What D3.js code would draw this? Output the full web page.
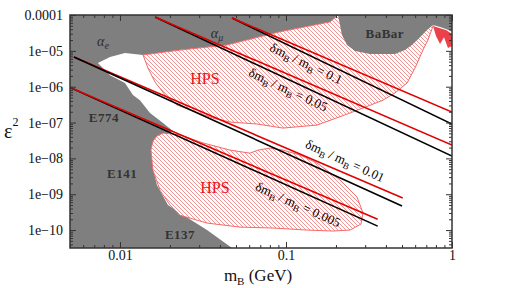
<!DOCTYPE html>
<html>
<head>
<meta charset="utf-8">
<script src="https://cdn.jsdelivr.net/npm/d3@7"></script>
<style>
  html, body { margin: 0; padding: 0; background: #fff; }
  svg { display: block; font-family: "Liberation Serif", "DejaVu Serif", serif; }
</style>
</head>
<body>
<svg id="chart" width="519" height="288"></svg>
<script>
// ---- data (m_B in GeV, epsilon^2) ----
const xTickValues = [0.01, 0.1, 1];
const yTickValues = [1e-4, 1e-5, 1e-6, 1e-7, 1e-8, 1e-9, 1e-10];

// allowed (white) region, everything else in the frame is excluded (grey)
const allowedRegion = [
  [0.00736, 4.6e-6], [0.00871, 6.7e-6], [0.01072, 8.7e-6], [0.01377, 7.7e-6],
  [0.02297, 1.05e-5], [0.04413, 1.46e-5], [0.09206, 3.4e-5], [0.1841, 6.4e-5],
  [0.2115, 1e-4], [1, 1e-4], [1, 3.16e-11], [0.0473, 3.16e-11],
  [0.03344, 1e-10], [0.02297, 3.0e-10], [0.01945, 5.0e-10], [0.0167, 1.8e-9],
  [0.0156, 6.5e-9], [0.0156, 2.35e-8], [0.0167, 3.9e-8], [0.02085, 5.8e-8],
  [0.01816, 9.7e-8], [0.01517, 1.84e-7], [0.01319, 4.2e-7], [0.01197, 5.9e-7],
  [0.01072, 1.26e-6], [0.00871, 2.1e-6]
];

const babarRegion = [
  [0.2057, 1e-4], [0.2173, 2.77e-5], [0.2331, 1.46e-5], [0.2604, 9.9e-6],
  [0.3207, 8.2e-6], [0.4536, 8.2e-6], [0.5212, 1.05e-5], [0.5741, 1.46e-5],
  [0.6412, 2.4e-5], [0.7068, 3.8e-5], [0.7686, 5.3e-5], [0.8472, 4.6e-5],
  [0.9203, 4.07e-5], [1, 3.4e-5], [1, 1e-4]
];

const hpsUpper = [
  [0.01377, 7.7e-6], [0.02297, 1.05e-5], [0.04413, 1.46e-5], [0.09206, 3.4e-5],
  [0.1841, 6.4e-5], [0.2057, 1e-4], [0.7686, 1e-4], [0.7686, 4.9e-5],
  [0.7161, 2.0e-5], [0.6683, 1.05e-5], [0.5984, 3.3e-6], [0.5358, 1.26e-6],
  [0.4536, 6.7e-7], [0.3838, 4.2e-7], [0.2429, 1.84e-7], [0.1538, 8.5e-8],
  [0.09594, 7.0e-8], [0.06686, 9.1e-8], [0.04605, 1.03e-7], [0.03633, 1.33e-7],
  [0.02754, 2.1e-7], [0.02203, 3.1e-7], [0.01867, 5.9e-7], [0.01626, 1.35e-6],
  [0.01475, 3.3e-6]
];

const hpsSpike = [
  [0.7686, 4.9e-5], [0.801, 2.6e-5], [0.8472, 1.55e-5], [0.895, 2.4e-5],
  [0.946, 1.2e-5], [1, 1.36e-5], [1, 2.95e-5], [0.9203, 3.8e-5], [0.8472, 4.3e-5]
];

const hpsLower = [
  [0.0167, 4.2e-8], [0.01816, 5.1e-8], [0.02297, 4.5e-8], [0.03163, 2.7e-8],
  [0.04605, 1.7e-8], [0.06068, 1.4e-8], [0.0678, 1.7e-8], [0.08013, 1.94e-8],
  [0.09594, 1.7e-8], [0.1214, 1.24e-8], [0.1538, 7.4e-9], [0.2115, 2.5e-9],
  [0.268, 8.3e-10], [0.2911, 3.0e-10], [0.283, 1.47e-10], [0.2429, 1e-10],
  [0.1919, 9.4e-11], [0.1339, 1e-10], [0.08351, 1.14e-10], [0.05285, 1.21e-10],
  [0.03344, 1.57e-10], [0.02297, 2.6e-10], [0.02, 5.0e-10], [0.01742, 1.3e-9],
  [0.0158, 4.7e-9], [0.01537, 1.7e-8], [0.0158, 3.04e-8]
];

// delta m_B / m_B lines: [start, end]
const ratioValues = ["0.1", "0.05", "0.01", "0.005"];
const redLines = [
  [[0.0473, 8.2e-5], [1, 1.96e-7]],
  [[0.01626, 8.8e-5], [1, 2.35e-8]],
  [[0.00528, 6.7e-6], [0.505, 7.8e-10]],
  [[0.005, 9.5e-7], [0.3567, 2.0e-10]]
];
const blackLines = [
  [[0.0473, 8.2e-5], [1, 9.08e-8]],
  [[0.01626, 8.8e-5], [1, 1.16e-8]],
  [[0.00528, 6.7e-6], [0.50, 4.7e-10]],
  [[0.005, 9.5e-7], [0.3567, 1.29e-10]]
];
// label centre for each ratio line
const ratioLabelPos = [[0.132, 4.3e-6], [0.1028, 8.1e-7], [0.2265, 8.4e-9], [0.118, 5.0e-10]];

const regionLabels = [
  { text: "HPS", m: 0.0325, e: 1.75e-6, kind: "hps" },
  { text: "HPS", m: 0.0373, e: 1.58e-9, kind: "hps" },
  { text: "BaBar", m: 0.394, e: 3.1e-5, kind: "exp" },
  { text: "E774", m: 0.0080, e: 1.42e-7, kind: "exp" },
  { text: "E141", m: 0.0103, e: 3.9e-9, kind: "exp" },
  { text: "E137", m: 0.023, e: 7.7e-11, kind: "exp" }
];
const alphaLabels = [
  { sub: "e", m: 0.0079, e: 1.88e-5 },
  { sub: "\u03bc", m: 0.0384, e: 3.1e-5 }
];

// ---- chart ----
const svg = d3.select("#chart");
const pLeft = 70, pRight = 452, pTop = 15, pBottom = 248;
const greyFill = "#7f7f7f";

const x = d3.scaleLog().domain([0.005, 1]).range([pLeft, pRight]);
const y = d3.scaleLog().domain([Math.pow(10, -10.5), 1e-4]).range([pBottom, pTop]);

const area = d3.line().x(d => x(d[0])).y(d => y(d[1])).curve(d3.curveLinearClosed);
const seg = d3.line().x(d => x(d[0])).y(d => y(d[1]));

const defs = svg.append("defs");
defs.append("clipPath").attr("id", "plotClip")
  .append("rect").attr("x", pLeft).attr("y", pTop)
  .attr("width", pRight - pLeft).attr("height", pBottom - pTop);
const hatch = defs.append("pattern").attr("id", "hatch")
  .attr("patternUnits", "userSpaceOnUse").attr("width", 4).attr("height", 4);
hatch.append("rect").attr("width", 4).attr("height", 4).attr("fill", "#fff");
hatch.append("path").attr("d", "M-1,3 l2,2 M0,0 l4,4 M3,-1 l2,2")
  .attr("stroke", "#ef7a7a").attr("stroke-width", 0.8);

const plot = svg.append("g").attr("clip-path", "url(#plotClip)");

// excluded background
plot.append("rect").attr("x", pLeft).attr("y", pTop)
  .attr("width", pRight - pLeft).attr("height", pBottom - pTop).attr("fill", greyFill);
plot.append("path").attr("d", area(allowedRegion)).attr("fill", "#fff");

// HPS reach
[hpsUpper, hpsLower].forEach(r => {
  plot.append("path").attr("d", area(r))
    .attr("fill", "url(#hatch)")
    .attr("stroke", "#f26a6a").attr("stroke-width", 1);
});
plot.append("path").attr("d", area(babarRegion)).attr("fill", greyFill);
plot.append("path").attr("d", area(hpsSpike)).attr("fill", "#e8202a").attr("opacity", 0.85);

// region labels
regionLabels.forEach(l => {
  plot.append("text")
    .attr("x", x(l.m)).attr("y", y(l.e))
    .attr("dy", "0.35em")
    .attr("text-anchor", "middle")
    .attr("font-size", l.kind === "hps" ? 16 : 13)
    .attr("font-weight", l.kind === "hps" ? null : "bold")
    .attr("letter-spacing", l.kind === "hps" ? null : "0.5px")
    .attr("fill", l.kind === "hps" ? "#e8101a" : "#333")
    .text(l.text);
});
alphaLabels.forEach(l => {
  const t = plot.append("text")
    .attr("x", x(l.m)).attr("y", y(l.e))
    .attr("dy", "0.35em")
    .attr("text-anchor", "middle")
    .attr("font-size", 14).attr("font-style", "italic")
    .attr("fill", "#2e2e2e");
  t.append("tspan").text("\u03b1");
  t.append("tspan").attr("font-size", 10).attr("dy", 3).text(l.sub);
});

// ratio lines
redLines.forEach((r, i) => {
  const b = blackLines[i];
  const order = i === 2 ? [["#e00000", r], ["#000", b]] : [["#000", b], ["#e00000", r]];
  order.forEach(([c, d]) => {
    plot.append("path").attr("d", seg(d))
      .attr("fill", "none").attr("stroke", c).attr("stroke-width", 1.6);
  });
});

// ratio labels, rotated along the lines
ratioValues.forEach((v, i) => {
  const d = blackLines[i];
  const ang = Math.atan2(y(d[1][1]) - y(d[0][1]), x(d[1][0]) - x(d[0][0])) * 180 / Math.PI;
  const px = x(ratioLabelPos[i][0]), py = y(ratioLabelPos[i][1]);
  const t = plot.append("text")
    .attr("transform", `translate(${px},${py}) rotate(${ang})`)
    .attr("text-anchor", "middle")
    .attr("y", 4)
    .attr("font-size", 13)
    .attr("fill", "#000");
  t.append("tspan").text("\u03b4m");
  t.append("tspan").attr("font-size", 9).attr("dy", 3).text("B");
  t.append("tspan").attr("dy", -3).text(" / m");
  t.append("tspan").attr("font-size", 9).attr("dy", 3).text("B");
  t.append("tspan").attr("dy", -3).text(" = " + v);
});

// ---- axes ----
function minorTicks(scale) {
  const [a, b] = scale.domain();
  const out = [];
  for (let k = Math.floor(Math.log10(a)); k <= Math.ceil(Math.log10(b)); k++) {
    for (let j = 2; j <= 9; j++) {
      const v = j * Math.pow(10, k);
      if (v >= a && v <= b) out.push(v);
    }
  }
  return out;
}
const axisColor = "#333";
const yFormat = d => d === 1e-4 ? "0.0001" : "1e\u2212" + String(-Math.round(Math.log10(d))).padStart(2, "0");

function styleAxis(g) {
  g.select(".domain").remove();
  g.selectAll(".tick line").attr("stroke", axisColor).attr("stroke-width", 1);
  g.selectAll("text").attr("fill", "#111").attr("font-size", 14)
    .attr("font-family", "'Liberation Serif', serif");
}

// bottom
svg.append("g").attr("transform", `translate(0,${pBottom})`)
  .call(d3.axisBottom(x).tickValues(xTickValues).tickFormat(d3.format("")).tickSize(-6).tickPadding(2))
  .call(styleAxis);
svg.append("g").attr("transform", `translate(0,${pBottom})`)
  .call(d3.axisBottom(x).tickValues(minorTicks(x)).tickFormat("").tickSize(-3))
  .call(styleAxis);
// top
svg.append("g").attr("transform", `translate(0,${pTop})`)
  .call(d3.axisTop(x).tickValues(xTickValues).tickFormat("").tickSize(-6))
  .call(styleAxis);
svg.append("g").attr("transform", `translate(0,${pTop})`)
  .call(d3.axisTop(x).tickValues(minorTicks(x)).tickFormat("").tickSize(-3))
  .call(styleAxis);
// left
svg.append("g").attr("transform", `translate(${pLeft},0)`)
  .call(d3.axisLeft(y).tickValues(yTickValues).tickFormat(yFormat).tickSize(-6).tickPadding(7))
  .call(styleAxis);
svg.append("g").attr("transform", `translate(${pLeft},0)`)
  .call(d3.axisLeft(y).tickValues(minorTicks(y)).tickFormat("").tickSize(-3))
  .call(styleAxis);
// right
svg.append("g").attr("transform", `translate(${pRight},0)`)
  .call(d3.axisRight(y).tickValues(yTickValues).tickFormat("").tickSize(-6))
  .call(styleAxis);
svg.append("g").attr("transform", `translate(${pRight},0)`)
  .call(d3.axisRight(y).tickValues(minorTicks(y)).tickFormat("").tickSize(-3))
  .call(styleAxis);

// frame
svg.append("rect").attr("x", pLeft).attr("y", pTop)
  .attr("width", pRight - pLeft).attr("height", pBottom - pTop)
  .attr("fill", "none").attr("stroke", axisColor).attr("stroke-width", 1.5);

// axis titles
const xt = svg.append("text")
  .attr("x", 258).attr("y", 281)
  .attr("text-anchor", "middle").attr("font-size", 17).attr("fill", "#111");
xt.append("tspan").text("m");
xt.append("tspan").attr("font-size", 11).attr("dy", 4).text("B");
xt.append("tspan").attr("dy", -4).text(" (GeV)");

const yt = svg.append("text")
  .attr("x", 4).attr("y", 138)
  .attr("font-size", 20).attr("fill", "#111");
yt.append("tspan").text("\u03b5");
yt.append("tspan").attr("font-size", 12).attr("dy", -12).text("2");
</script>
</body>
</html>
